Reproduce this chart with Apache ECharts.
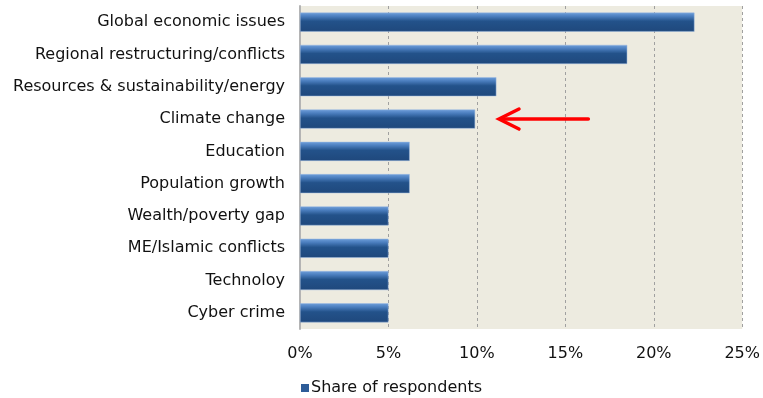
<!DOCTYPE html>
<html>
<head>
<meta charset="utf-8">
<style>
  html, body { margin: 0; padding: 0; background: #ffffff; }
  #chart { width: 763px; height: 398px; }
</style>
<script src="https://cdn.jsdelivr.net/npm/echarts@6/dist/echarts.min.js"></script>
</head>
<body>
<div id="chart"></div>
<script>
// Most pressing global issues, share of respondents (%)
const categories = [
  'Global economic issues',
  'Regional restructuring/conflicts',
  'Resources & sustainability/energy',
  'Climate change',
  'Education',
  'Population growth',
  'Wealth/poverty gap',
  'ME/Islamic conflicts',
  'Technoloy',
  'Cyber crime'
];
const shareOfRespondents = [22.3, 18.5, 11.1, 9.9, 6.2, 6.2, 5.0, 5.0, 5.0, 5.0];
const xTicks = [0, 5, 10, 15, 20, 25];
const seriesName = 'Share of respondents';

// Highlight arrow pointing at the climate change bar: [category, from %, to %]
const arrowCategory = ['Climate change'];
const arrowFrom = [16.3];
const arrowTo = [11.25];

const font = '"DejaVu Sans", Verdana, sans-serif';
const chart = echarts.init(document.getElementById('chart'), null, { renderer: 'canvas' });

chart.setOption({
  animation: false,
  backgroundColor: '#ffffff',
  textStyle: { fontFamily: font },
  grid: {
    left: 300, right: 19, top: 6, bottom: 69,
    show: true, backgroundColor: '#edebe0', borderWidth: 0
  },
  legend: {
    data: [{
      name: seriesName, icon: 'rect',
      itemStyle: { color: '#2d5c98', borderWidth: 0 }
    }],
    left: 296, top: 375,
    itemWidth: 8, itemHeight: 8, itemGap: 5,
    textStyle: { fontFamily: font, fontSize: 16, color: '#111111', padding: [0, 0, 0, -3] }
  },
  xAxis: {
    type: 'value',
    min: xTicks[0], max: xTicks[xTicks.length - 1], interval: 5,
    axisLine: { show: false },
    axisTick: { show: false },
    axisLabel: {
      formatter: v => v + '%', margin: 17,
      fontFamily: font, fontSize: 16, color: '#111111'
    },
    splitLine: { show: true, lineStyle: { color: '#a0a0a0', type: [3, 3], width: 1 } }
  },
  yAxis: {
    type: 'category',
    data: categories,
    inverse: true,
    axisLine: { show: true, lineStyle: { color: '#b4b4b4', width: 2 } },
    axisTick: { show: false },
    axisLabel: { fontFamily: font, fontSize: 16, color: '#111111', margin: 15 }
  },
  series: [
    {
      name: seriesName,
      type: 'bar',
      data: shareOfRespondents,
      barWidth: '59%',
      itemStyle: {
        color: new echarts.graphic.LinearGradient(0, 0, 0, 1, [
          { offset: 0, color: '#6f9fdb' },
          { offset: 0.2, color: '#4a7dbd' },
          { offset: 0.45, color: '#23528a' },
          { offset: 1, color: '#1f487c' }
        ]),
        borderColor: '#9bb8e0', borderWidth: 0.5
      }
    },
    {
      name: 'arrow',
      type: 'custom',
      silent: true,
      data: arrowCategory.map((c, i) => [arrowFrom[i], arrowTo[i], c]),
      encode: { x: [0, 1], y: 2 },
      renderItem: function (params, api) {
        const cat = api.value(2);
        const start = api.coord([api.value(0), cat]);
        const tip = api.coord([api.value(1), cat]);
        const style = { stroke: '#ff0000', lineWidth: 3.5, lineCap: 'round', lineJoin: 'miter', fill: 'none' };
        return {
          type: 'group',
          children: [
            { type: 'line', shape: { x1: start[0], y1: start[1], x2: tip[0] + 2, y2: tip[1] }, style: style },
            {
              type: 'polyline',
              shape: { points: [[tip[0] + 20, tip[1] - 10], [tip[0], tip[1]], [tip[0] + 20, tip[1] + 10]] },
              style: style
            }
          ]
        };
      },
      z: 5
    }
  ]
});
</script>
</body>
</html>
